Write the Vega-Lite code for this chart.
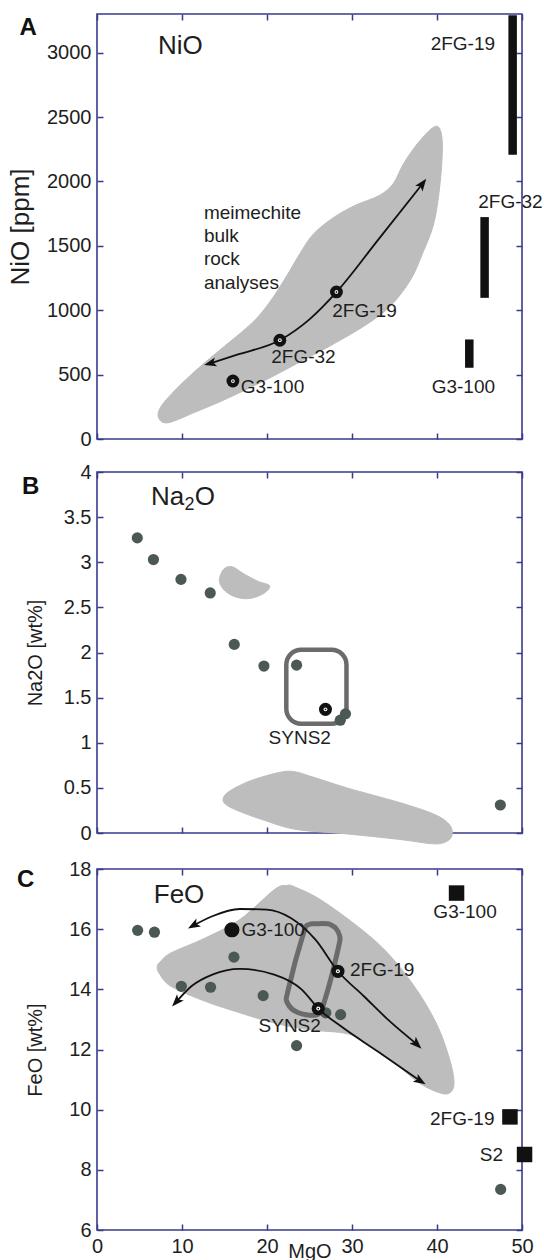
{
  "$schema": "https://vega.github.io/schema/vega-lite/v6.json",
  "padding": {"left": 6, "top": 10, "right": 2, "bottom": 0},
  "background": "white",
  "spacing": 11,
  "config": {
    "font": "Liberation Sans",
    "view": {"stroke": "#3a3a8c", "strokeWidth": 1.6},
    "axis": {
      "domain": false, "grid": false, "ticks": true, "tickSize": -6, "tickColor": "#3a3a8c", "tickWidth": 1.5,
      "labelFont": "Liberation Sans", "labelFontSize": 20, "labelColor": "#1e1e1e", "labelPadding": 12,
      "labelFlush": false, "labelOverlap": false,
      "titleFont": "Liberation Sans", "titleFontWeight": "normal", "titleColor": "#1e1e1e"
    }
  },
  "datasets": {
    "aField": [
      {"i":0,"x":8.41,"y":127},{"i":1,"x":11.67,"y":212},{"i":2,"x":15.33,"y":315},{"i":3,"x":19.8,"y":457},
      {"i":4,"x":24.27,"y":612},{"i":5,"x":27.93,"y":742},{"i":6,"x":31.59,"y":884},{"i":7,"x":34.43,"y":1026},
      {"i":8,"x":36.87,"y":1233},{"i":9,"x":38.29,"y":1439},{"i":10,"x":39.51,"y":1646},{"i":11,"x":40.12,"y":1853},
      {"i":12,"x":40.53,"y":2111},{"i":13,"x":40.61,"y":2318},{"i":14,"x":40.2,"y":2421},{"i":15,"x":39.31,"y":2408},
      {"i":16,"x":37.68,"y":2292},{"i":17,"x":36.06,"y":2137},{"i":18,"x":34.84,"y":1982},{"i":19,"x":33.21,"y":1891},
      {"i":20,"x":30.37,"y":1814},{"i":21,"x":27.93,"y":1724},{"i":22,"x":25.49,"y":1594},{"i":23,"x":23.86,"y":1439},
      {"i":24,"x":22.24,"y":1258},{"i":25,"x":20.2,"y":1052},{"i":26,"x":18.17,"y":897},{"i":27,"x":14.92,"y":716},
      {"i":28,"x":11.67,"y":535},{"i":29,"x":8.82,"y":354},{"i":30,"x":7.4,"y":238},{"i":31,"x":7.28,"y":160}
    ],
    "aArrow": [
      {"x":13.3,"y":587},{"x":16.5,"y":655},{"x":21.5,"y":767},{"x":25.1,"y":935},{"x":28.2,"y":1142},{"x":33,"y":1540},{"x":38.3,"y":1982}
    ],
    "heads": [
      {"id":"A1","x":13.3,"y":587},{"id":"A2","x":38.3,"y":1982},
      {"id":"C1","x":11.33,"y":16.12},{"id":"C2","x":37.65,"y":12.17},
      {"id":"C3","x":9.32,"y":13.58},{"id":"C4","x":38.05,"y":10.95}
    ],
    "aBars": [
      {"x":48.9,"y":2207,"y2":3290},{"x":45.6,"y":1096,"y2":1723},{"x":43.8,"y":553,"y2":773}
    ],
    "aBull": [
      {"x":15.99,"y":450},{"x":21.51,"y":767},{"x":28.17,"y":1142}
    ],
    "aLabels": [
      {"x":16.92,"y":406,"t":"G3-100"},{"x":20.5,"y":633,"t":"2FG-32"},{"x":27.68,"y":992,"t":"2FG-19"},
      {"x":39.25,"y":3067,"t":"2FG-19"},{"x":44.85,"y":1840,"t":"2FG-32"},{"x":39.37,"y":406,"t":"G3-100"}
    ],
    "aNote": [{"x":12.58,"y":1711,"t":"meimechite\nbulk\nrock\nanalyses"}],
    "aName": [{"x":7.18,"y":3054,"t":"NiO"}],
    "aLetter": [{"x":-8.1,"y":3191,"t":"A"}],
    "bField1": [
      {"i":0,"x":14.87,"y":2.92},{"i":1,"x":15.9,"y":2.95},{"i":2,"x":17.3,"y":2.87},{"i":3,"x":18.9,"y":2.79},
      {"i":4,"x":20.3,"y":2.74},{"i":5,"x":19.7,"y":2.66},{"i":6,"x":18.1,"y":2.6},{"i":7,"x":16.5,"y":2.61},
      {"i":8,"x":15.1,"y":2.68},{"i":9,"x":14.4,"y":2.79}
    ],
    "bField2": [
      {"i":0,"x":14.87,"y":0.39},{"i":1,"x":15.7,"y":0.47},{"i":2,"x":18.1,"y":0.58},{"i":3,"x":21.4,"y":0.67},
      {"i":4,"x":23.2,"y":0.68},{"i":5,"x":25.4,"y":0.62},{"i":6,"x":29.4,"y":0.5},{"i":7,"x":35.5,"y":0.34},
      {"i":8,"x":39.6,"y":0.21},{"i":9,"x":41.4,"y":0.1},{"i":10,"x":41.8,"y":-0.01},{"i":11,"x":41.2,"y":-0.09},
      {"i":12,"x":39.6,"y":-0.12},{"i":13,"x":35.5,"y":-0.07},{"i":14,"x":29.4,"y":-0.01},{"i":15,"x":23.4,"y":0.04},
      {"i":16,"x":19.7,"y":0.14},{"i":17,"x":16.5,"y":0.25},{"i":18,"x":15.1,"y":0.32}
    ],
    "bBox": [{"x":22.27,"x2":29.35,"y":1.21,"y2":2.03}],
    "bPts": [
      {"x":4.74,"y":3.27},{"x":6.64,"y":3.03},{"x":9.88,"y":2.81},{"x":13.32,"y":2.66},{"x":16.15,"y":2.09},
      {"x":19.64,"y":1.85},{"x":23.48,"y":1.86},{"x":28.62,"y":1.25},{"x":29.23,"y":1.32},{"x":47.45,"y":0.31}
    ],
    "bBull": [{"x":26.88,"y":1.37}],
    "bLabels": [{"x":23.85,"y":1.05,"t":"SYNS2"}],
    "bName": [{"x":6.36,"y":3.72,"t":"Na"},{"x":11.5,"y":3.72,"t":"O"}],
    "bSub": [{"x":10.3,"y":3.63,"t":"2"}],
    "bLetter": [{"x":-7.8,"y":3.83,"t":"B"}],
    "cField": [
      {"i":0,"x":7.49,"y":14.93},{"i":1,"x":8.7,"y":15.21},{"i":2,"x":12.75,"y":15.71},{"i":3,"x":16.8,"y":16.32},
      {"i":4,"x":20.85,"y":17.31},{"i":5,"x":22.27,"y":17.45},{"i":6,"x":23.3,"y":17.4},{"i":7,"x":26.9,"y":16.87},
      {"i":8,"x":33.0,"y":15.54},{"i":9,"x":37.05,"y":14.21},{"i":10,"x":39.9,"y":12.88},{"i":11,"x":41.5,"y":11.66},
      {"i":12,"x":42.0,"y":10.89},{"i":13,"x":41.5,"y":10.56},{"i":14,"x":40.3,"y":10.56},{"i":15,"x":37.9,"y":10.89},
      {"i":16,"x":35.0,"y":11.55},{"i":17,"x":31.0,"y":12.33},{"i":18,"x":28.95,"y":12.55},{"i":19,"x":24.9,"y":12.66},
      {"i":20,"x":20.85,"y":12.88},{"i":21,"x":16.8,"y":13.22},{"i":22,"x":12.75,"y":13.6},{"i":23,"x":8.7,"y":14.1},
      {"i":24,"x":7.3,"y":14.54},{"i":25,"x":7.1,"y":14.77}
    ],
    "cOutline": [
      {"i":0,"x":24.9,"y":16.15},{"i":1,"x":25.7,"y":16.18},{"i":2,"x":27.5,"y":16.15},{"i":3,"x":28.5,"y":15.82},
      {"i":4,"x":28.35,"y":15.32},{"i":5,"x":26.7,"y":13.55},{"i":6,"x":25.9,"y":13.16},{"i":7,"x":23.7,"y":13.22},
      {"i":8,"x":22.4,"y":13.55},{"i":9,"x":22.5,"y":13.99},{"i":10,"x":24.3,"y":15.87}
    ],
    "cPts": [
      {"x":4.78,"y":15.96},{"x":6.76,"y":15.9},{"x":16.11,"y":15.07},{"x":9.92,"y":14.1},{"x":13.36,"y":14.07},
      {"x":19.55,"y":13.79},{"x":23.48,"y":12.13},{"x":26.92,"y":13.22},{"x":28.66,"y":13.16},{"x":47.49,"y":7.35}
    ],
    "cArrows": [
      {"g":1,"x":11.33,"y":16.12},{"g":1,"x":13.56,"y":16.43},{"g":1,"x":16.8,"y":16.67},{"g":1,"x":19.97,"y":16.65},
      {"g":1,"x":22.8,"y":16.37},{"g":1,"x":25.7,"y":15.65},{"g":1,"x":28.35,"y":14.6},{"g":1,"x":31.4,"y":13.77},
      {"g":1,"x":34.2,"y":13.0},{"g":1,"x":37.65,"y":12.17},
      {"g":2,"x":9.32,"y":13.58},{"g":2,"x":11.14,"y":14.11},{"g":2,"x":13.57,"y":14.49},{"g":2,"x":16.8,"y":14.68},
      {"g":2,"x":20.85,"y":14.49},{"g":2,"x":24.1,"y":13.99},{"g":2,"x":26.05,"y":13.36},{"g":2,"x":28.95,"y":12.72},
      {"g":2,"x":33.0,"y":11.94},{"g":2,"x":38.05,"y":10.95}
    ],
    "cG3": [{"x":15.87,"y":15.98}],
    "cBull": [{"x":28.34,"y":14.6},{"x":26.03,"y":13.36}],
    "cSquares": [{"x":42.3,"y":17.2},{"x":48.58,"y":9.76},{"x":50.3,"y":8.51}],
    "cLabelsL": [{"x":17.0,"y":15.96,"t":"G3-100"},{"x":29.76,"y":14.65,"t":"2FG-19"}],
    "cLabelsC": [{"x":22.67,"y":12.77,"t":"SYNS2"},{"x":43.3,"y":16.56,"t":"G3-100"}],
    "cLabelsR": [{"x":46.76,"y":9.69,"t":"2FG-19"},{"x":47.77,"y":8.48,"t":"S2"}],
    "cName": [{"x":6.68,"y":17.15,"t":"FeO"}],
    "cLetter": [{"x":-8.4,"y":17.62,"t":"C"}]
  },
  "vconcat": [
    {
      "width": 425, "height": 425,
      "resolve": {"axis": {"x": "independent", "y": "independent"}},
      "layer": [
        {
          "data": {"name": "aBull"},
          "mark": {"type": "point", "opacity": 0},
          "encoding": {
            "x": {"field": "x", "type": "quantitative", "scale": {"domain": [0, 50], "nice": false, "zero": false},
                  "axis": {"orient": "top", "labels": false, "title": null, "values": [0, 10, 20, 30, 40, 50]}},
            "y": {"field": "y", "type": "quantitative", "scale": {"domain": [0, 3300], "nice": false, "zero": false},
                  "axis": {"orient": "right", "labels": false, "title": null, "values": [0, 500, 1000, 1500, 2000, 2500, 3000]}}
          }
        },
        {
          "encoding": {
            "x": {"field": "x", "type": "quantitative", "scale": {"domain": [0, 50], "nice": false, "zero": false},
                  "axis": {"orient": "bottom", "labels": false, "title": null, "values": [0, 10, 20, 30, 40, 50]}},
            "y": {"field": "y", "type": "quantitative", "scale": {"domain": [0, 3300], "nice": false, "zero": false},
                  "axis": {"orient": "left", "title": "NiO [ppm]", "format": "d", "titleFontSize": 26, "titlePadding": 13, "values": [0, 500, 1000, 1500, 2000, 2500, 3000]}}
          },
          "layer": [
            {"data": {"name": "aField"}, "mark": {"type": "line", "interpolate": "cardinal-closed", "fill": "#bcbdbc", "stroke": "#bcbdbc", "strokeWidth": 1},
             "encoding": {"order": {"field": "i", "type": "quantitative"}}},
            {"data": {"name": "aArrow"}, "mark": {"type": "line", "interpolate": "monotone", "color": "#111111", "strokeWidth": 1.8}, "encoding": {}},
            {"data": {"name": "heads"}, "transform": [{"filter": "datum.id == 'A1'"}],
             "mark": {"type": "point", "shape": "M-1,-0.75L1,0L-1,0.75L-0.55,0Z", "angle": 165, "filled": true, "color": "#111111", "size": 150, "opacity": 1, "strokeWidth": 0}},
            {"data": {"name": "heads"}, "transform": [{"filter": "datum.id == 'A2'"}],
             "mark": {"type": "point", "shape": "M-1,-0.75L1,0L-1,0.75L-0.55,0Z", "angle": -53, "filled": true, "color": "#111111", "size": 150, "opacity": 1, "strokeWidth": 0}},
            {"data": {"name": "aBars"}, "mark": {"type": "rule", "color": "#111111", "strokeWidth": 8.5}, "encoding": {"y2": {"field": "y2"}}},
            {"data": {"name": "aBull"}, "mark": {"type": "circle", "color": "#111111", "size": 165, "opacity": 1}},
            {"data": {"name": "aBull"}, "mark": {"type": "circle", "color": "#ffffff", "size": 14, "opacity": 1}},
            {"data": {"name": "aBull"}, "mark": {"type": "circle", "color": "#111111", "size": 3, "opacity": 1}},
            {"data": {"name": "aLabels"}, "mark": {"type": "text", "align": "left", "baseline": "middle", "fontSize": 19, "color": "#1e1e1e"},
             "encoding": {"text": {"field": "t", "type": "nominal"}}},
            {"data": {"name": "aNote"}, "mark": {"type": "text", "align": "left", "baseline": "alphabetic", "fontSize": 19, "lineHeight": 23.3, "lineBreak": "\n", "color": "#1e1e1e"},
             "encoding": {"text": {"field": "t", "type": "nominal"}}},
            {"data": {"name": "aName"}, "mark": {"type": "text", "align": "left", "baseline": "middle", "fontSize": 26, "color": "#1e1e1e"},
             "encoding": {"text": {"field": "t", "type": "nominal"}}},
            {"data": {"name": "aLetter"}, "mark": {"type": "text", "align": "center", "baseline": "middle", "fontSize": 24, "fontWeight": "bold", "color": "#111111"},
             "encoding": {"text": {"field": "t", "type": "nominal"}}}
          ]
        }
      ]
    },
    {
      "width": 425, "height": 361,
      "resolve": {"axis": {"x": "independent", "y": "independent"}},
      "layer": [
        {
          "data": {"name": "bBull"},
          "mark": {"type": "point", "opacity": 0},
          "encoding": {
            "x": {"field": "x", "type": "quantitative", "scale": {"domain": [0, 50], "nice": false, "zero": false},
                  "axis": {"orient": "top", "labels": false, "title": null, "values": [0, 10, 20, 30, 40, 50]}},
            "y": {"field": "y", "type": "quantitative", "scale": {"domain": [0, 4], "nice": false, "zero": false},
                  "axis": {"orient": "right", "labels": false, "title": null, "values": [0, 0.5, 1, 1.5, 2, 2.5, 3, 3.5, 4]}}
          }
        },
        {
          "encoding": {
            "x": {"field": "x", "type": "quantitative", "scale": {"domain": [0, 50], "nice": false, "zero": false},
                  "axis": {"orient": "bottom", "labels": false, "title": null, "values": [0, 10, 20, 30, 40, 50]}},
            "y": {"field": "y", "type": "quantitative", "scale": {"domain": [0, 4], "nice": false, "zero": false},
                  "axis": {"orient": "left", "title": "Na2O [wt%]", "format": "~g", "titleFontSize": 20, "titlePadding": 18, "values": [0, 0.5, 1, 1.5, 2, 2.5, 3, 3.5, 4]}}
          },
          "layer": [
            {"data": {"name": "bField1"}, "mark": {"type": "line", "interpolate": "cardinal-closed", "fill": "#bcbdbc", "stroke": "#bcbdbc", "strokeWidth": 1},
             "encoding": {"order": {"field": "i", "type": "quantitative"}}},
            {"data": {"name": "bField2"}, "mark": {"type": "line", "interpolate": "cardinal-closed", "fill": "#bcbdbc", "stroke": "#bcbdbc", "strokeWidth": 1},
             "encoding": {"order": {"field": "i", "type": "quantitative"}}},
            {"data": {"name": "bBox"}, "mark": {"type": "rect", "fill": "#ffffff", "fillOpacity": 0, "stroke": "#6b6b6b", "strokeWidth": 4.5, "cornerRadius": 15},
             "encoding": {"x2": {"field": "x2"}, "y2": {"field": "y2"}}},
            {"data": {"name": "bPts"}, "mark": {"type": "circle", "color": "#4c5854", "size": 125, "opacity": 1}},
            {"data": {"name": "bBull"}, "mark": {"type": "circle", "color": "#111111", "size": 170, "opacity": 1}},
            {"data": {"name": "bBull"}, "mark": {"type": "circle", "color": "#ffffff", "size": 14, "opacity": 1}},
            {"data": {"name": "bBull"}, "mark": {"type": "circle", "color": "#111111", "size": 3, "opacity": 1}},
            {"data": {"name": "bLabels"}, "mark": {"type": "text", "align": "center", "baseline": "middle", "fontSize": 19, "color": "#1e1e1e"},
             "encoding": {"text": {"field": "t", "type": "nominal"}}},
            {"data": {"name": "bName"}, "mark": {"type": "text", "align": "left", "baseline": "middle", "fontSize": 26, "color": "#1e1e1e"},
             "encoding": {"text": {"field": "t", "type": "nominal"}}},
            {"data": {"name": "bSub"}, "mark": {"type": "text", "align": "left", "baseline": "middle", "fontSize": 18, "color": "#1e1e1e"},
             "encoding": {"text": {"field": "t", "type": "nominal"}}},
            {"data": {"name": "bLetter"}, "mark": {"type": "text", "align": "center", "baseline": "middle", "fontSize": 24, "fontWeight": "bold", "color": "#111111"},
             "encoding": {"text": {"field": "t", "type": "nominal"}}}
          ]
        }
      ]
    },
    {
      "width": 425, "height": 361,
      "resolve": {"axis": {"x": "independent", "y": "independent"}},
      "layer": [
        {
          "data": {"name": "cG3"},
          "mark": {"type": "point", "opacity": 0},
          "encoding": {
            "x": {"field": "x", "type": "quantitative", "scale": {"domain": [0, 50], "nice": false, "zero": false},
                  "axis": {"orient": "top", "labels": false, "title": null, "values": [0, 10, 20, 30, 40, 50]}},
            "y": {"field": "y", "type": "quantitative", "scale": {"domain": [6, 18], "nice": false, "zero": false},
                  "axis": {"orient": "right", "labels": false, "title": null, "values": [6, 8, 10, 12, 14, 16, 18]}}
          }
        },
        {
          "encoding": {
            "x": {"field": "x", "type": "quantitative", "scale": {"domain": [0, 50], "nice": false, "zero": false},
                  "axis": {"orient": "bottom", "title": "MgO", "format": "d", "titleFontSize": 20, "titleY": 27, "titleBaseline": "alphabetic", "values": [0, 10, 20, 30, 40, 50]}},
            "y": {"field": "y", "type": "quantitative", "scale": {"domain": [6, 18], "nice": false, "zero": false},
                  "axis": {"orient": "left", "title": "FeO [wt%]", "format": "d", "titleFontSize": 20, "titlePadding": 23, "values": [6, 8, 10, 12, 14, 16, 18]}}
          },
          "layer": [
            {"data": {"name": "cField"}, "mark": {"type": "line", "interpolate": "cardinal-closed", "fill": "#bcbdbc", "stroke": "#bcbdbc", "strokeWidth": 1},
             "encoding": {"order": {"field": "i", "type": "quantitative"}}},
            {"data": {"name": "cOutline"}, "mark": {"type": "line", "interpolate": "cardinal-closed", "color": "#6b6b6b", "strokeWidth": 5},
             "encoding": {"order": {"field": "i", "type": "quantitative"}}},
            {"data": {"name": "cPts"}, "mark": {"type": "circle", "color": "#4c5854", "size": 125, "opacity": 1}},
            {"data": {"name": "cArrows"}, "mark": {"type": "line", "interpolate": "monotone", "color": "#111111", "strokeWidth": 1.8},
             "encoding": {"detail": {"field": "g", "type": "nominal"}}},
            {"data": {"name": "heads"}, "transform": [{"filter": "datum.id == 'C1'"}],
             "mark": {"type": "point", "shape": "M-1,-0.75L1,0L-1,0.75L-0.55,0Z", "angle": 150, "filled": true, "color": "#111111", "size": 150, "opacity": 1, "strokeWidth": 0}},
            {"data": {"name": "heads"}, "transform": [{"filter": "datum.id == 'C2'"}],
             "mark": {"type": "point", "shape": "M-1,-0.75L1,0L-1,0.75L-0.55,0Z", "angle": 44, "filled": true, "color": "#111111", "size": 150, "opacity": 1, "strokeWidth": 0}},
            {"data": {"name": "heads"}, "transform": [{"filter": "datum.id == 'C3'"}],
             "mark": {"type": "point", "shape": "M-1,-0.75L1,0L-1,0.75L-0.55,0Z", "angle": 133, "filled": true, "color": "#111111", "size": 150, "opacity": 1, "strokeWidth": 0}},
            {"data": {"name": "heads"}, "transform": [{"filter": "datum.id == 'C4'"}],
             "mark": {"type": "point", "shape": "M-1,-0.75L1,0L-1,0.75L-0.55,0Z", "angle": 32, "filled": true, "color": "#111111", "size": 150, "opacity": 1, "strokeWidth": 0}},
            {"data": {"name": "cG3"}, "mark": {"type": "circle", "color": "#111111", "size": 230, "opacity": 1}},
            {"data": {"name": "cBull"}, "mark": {"type": "circle", "color": "#111111", "size": 175, "opacity": 1}},
            {"data": {"name": "cBull"}, "mark": {"type": "circle", "color": "#ffffff", "size": 16, "opacity": 1}},
            {"data": {"name": "cBull"}, "mark": {"type": "circle", "color": "#111111", "size": 3, "opacity": 1}},
            {"data": {"name": "cSquares"}, "mark": {"type": "square", "color": "#111111", "size": 240, "opacity": 1}},
            {"data": {"name": "cLabelsL"}, "mark": {"type": "text", "align": "left", "baseline": "middle", "fontSize": 19, "color": "#1e1e1e"},
             "encoding": {"text": {"field": "t", "type": "nominal"}}},
            {"data": {"name": "cLabelsC"}, "mark": {"type": "text", "align": "center", "baseline": "middle", "fontSize": 19, "color": "#1e1e1e"},
             "encoding": {"text": {"field": "t", "type": "nominal"}}},
            {"data": {"name": "cLabelsR"}, "mark": {"type": "text", "align": "right", "baseline": "middle", "fontSize": 19, "color": "#1e1e1e"},
             "encoding": {"text": {"field": "t", "type": "nominal"}}},
            {"data": {"name": "cName"}, "mark": {"type": "text", "align": "left", "baseline": "middle", "fontSize": 26, "color": "#1e1e1e"},
             "encoding": {"text": {"field": "t", "type": "nominal"}}},
            {"data": {"name": "cLetter"}, "mark": {"type": "text", "align": "center", "baseline": "middle", "fontSize": 24, "fontWeight": "bold", "color": "#111111"},
             "encoding": {"text": {"field": "t", "type": "nominal"}}}
          ]
        }
      ]
    }
  ]
}
